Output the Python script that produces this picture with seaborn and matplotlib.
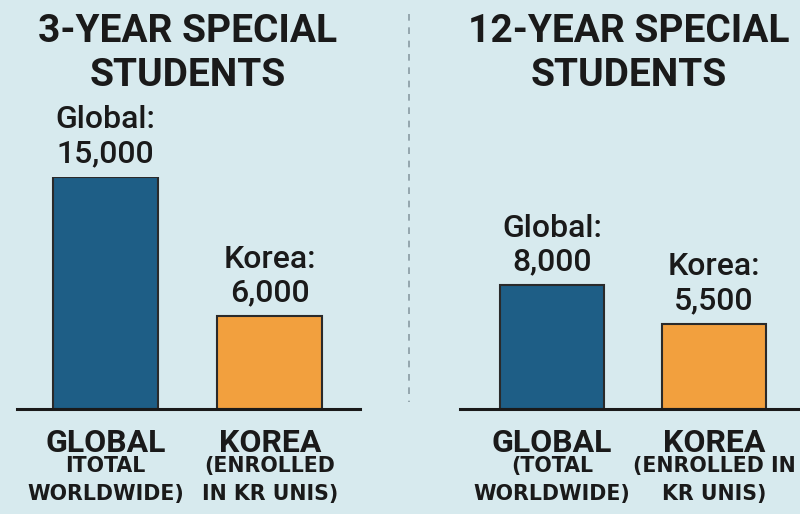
import matplotlib
matplotlib.use("Agg")
import matplotlib.pyplot as plt
import matplotlib.lines as mlines
import seaborn as sns
import pandas as pd

# data
categories = ["Global", "Korea"]
three_year = [15000, 6000]
twelve_year = [8000, 5500]
panel_titles = ["3-YEAR SPECIAL\nSTUDENTS", "12-YEAR SPECIAL\nSTUDENTS"]
cat_labels = ["GLOBAL", "KOREA"]
sub_labels_left = ["ITOTAL\nWORLDWIDE)", "(ENROLLED\nIN KR UNIS)"]
sub_labels_right = ["(TOTAL\nWORLDWIDE)", "(ENROLLED IN\nKR UNIS)"]

bg = "#d7eaee"
colors = ["#1e5e86", "#f2a03e"]
ink = "#1a1a1a"

sns.set_theme(style="white")
plt.rcParams["font.family"] = ["Roboto", "DejaVu Sans"]

fig = plt.figure(figsize=(8, 5.14), dpi=100)
fig.patch.set_facecolor(bg)

W, H = 800, 514


def panel(left_px, right_px, xlim, values, title, title_x, subs):
    ax = fig.add_axes([left_px / W, (H - 409) / H, (right_px - left_px) / W, 232 / H])
    ax.set_facecolor(bg)
    df = pd.DataFrame({"cat": categories, "val": values})
    sns.barplot(data=df, x="cat", y="val", hue="cat", palette=colors,
                saturation=1, width=0.64, edgecolor="#2a2a2a", linewidth=1.5,
                legend=False, ax=ax)
    ax.set_xlim(*xlim)
    ax.set_ylim(0, 15000)
    for s in ["top", "left", "right"]:
        ax.spines[s].set_visible(False)
    ax.spines["bottom"].set_linewidth(2.2)
    ax.spines["bottom"].set_color(ink)
    ax.set_xticks([])
    ax.set_yticks([])
    ax.set_xlabel("")
    ax.set_ylabel("")
    for i, v in enumerate(values):
        ax.annotate(f"{categories[i]}:\n{v:,}", (i, v), xytext=(0, 6.5),
                    textcoords="offset points", ha="center", va="bottom",
                    fontsize=23, fontweight="medium", color=ink,
                    linespacing=1.2, annotation_clip=False)
        ax.annotate(cat_labels[i], (i, 0), xytext=(0, -13.5),
                    textcoords="offset points", ha="center", va="top",
                    fontsize=23, fontweight="bold", color=ink,
                    annotation_clip=False)
        ax.annotate(subs[i], (i, 0), xytext=(0, -34),
                    textcoords="offset points", ha="center", va="top",
                    fontsize=14.8, fontweight="bold", color=ink,
                    family="DejaVu Sans", linespacing=1.5,
                    annotation_clip=False)
    fig.text(title_x / W, 1 - 13 / H, title, ha="center", va="top",
             fontsize=28, fontweight="bold", color=ink, linespacing=1.25)
    return ax


panel(17, 360, (-0.54, 1.55), three_year, panel_titles[0], 188, sub_labels_left)
panel(460, 800, (-0.566, 1.53), twelve_year, panel_titles[1], 629, sub_labels_right)

# dashed divider
fig.add_artist(mlines.Line2D([409 / W, 409 / W], [1 - 14 / H, 1 - 402 / H],
                             color="#8a9ba3", linewidth=1.2, linestyle=(0, (4, 4))))

fig.savefig("out.png", dpi=100, facecolor=bg)
